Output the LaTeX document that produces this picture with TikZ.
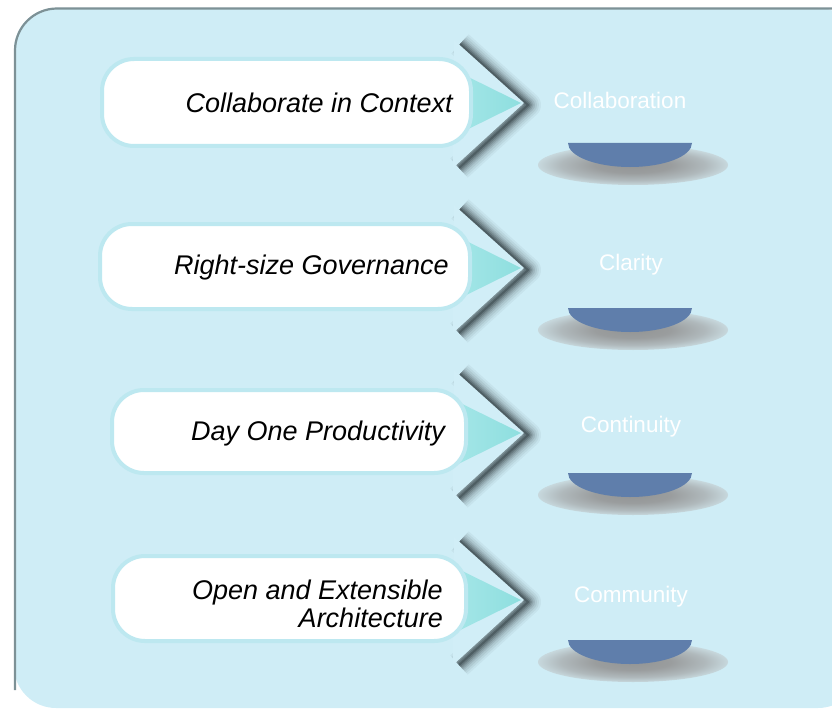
\documentclass[tikz,border=0pt]{standalone}
\usepackage{fontspec}
\setmainfont{Liberation Sans}
\definecolor{bg}{HTML}{CFEDF6}
\definecolor{chev}{HTML}{D1EEF7}
\definecolor{frame}{HTML}{7D9196}
\definecolor{pillline}{HTML}{BDE8F0}
\definecolor{cyanL}{HTML}{A9E7E9}
\definecolor{cyanD}{HTML}{8EDFDF}
\definecolor{bowlblue}{HTML}{5F7EAB}
\definecolor{shad}{HTML}{2E3A3E}
\definecolor{g0}{HTML}{939595}
\definecolor{g1}{HTML}{9A9D9E}
\definecolor{g2}{HTML}{B0B9BC}
\definecolor{g3}{HTML}{C7D8DD}
\pgfdeclareradialshading{bowlsh}{\pgfpoint{0bp}{0bp}}{color(0bp)=(g0); color(10bp)=(g1); color(19bp)=(g2); color(25bp)=(g3); color(50bp)=(g3)}
\tikzset{
  pill/.style={draw=pillline, line width=4bp, fill=white, rounded corners=32bp},
  pilltext/.style={anchor=east, inner sep=0pt, font=\fontsize{27bp}{28bp}\selectfont\itshape, text=black, align=right},
  lab/.style={inner sep=0pt, font=\fontsize{22.5bp}{26bp}\selectfont, text=white},
}
\begin{document}
\begin{tikzpicture}[x=1bp,y=-1bp]
\useasboundingbox (0,0) rectangle (832,709);
\clip (0,0) rectangle (832,709);
% outer panel
\fill[bg, rounded corners=42bp] (14,8) rectangle (860,708);
\draw[frame, line width=2.2bp, rounded corners=42bp] (15,690) -- (15,8.5) -- (860,8.5);
% rows: centre y / pill left / right / top / bottom
\foreach \c/\pl/\pr/\pt/\pb in {103/102/471/59/146, 268/100/470/224/309, 433/112/466/390/473, 600/113/466/556/641}{
  % chevron shadow (soft, built from stacked translucent strokes)
  \foreach \w/\o in {26/0.05,22/0.07,18/0.09,14/0.12,11/0.15,8/0.2,5/0.28,2/0.4}{
    \draw[shad, line width=\w bp, opacity=\o, line join=round, shift={(4,2)}]
      (456,{\c-61}) -- (524,\c) -- (455,{\c+63});
  }
  \fill[chev] (454,{\c-63}) -- (524,\c) -- (453,{\c+65}) -- cycle;
  % cyan triangle
  \shade[left color=cyanL, right color=cyanD] (440,{\c-40}) -- (521,\c) -- (440,{\c+40}) -- cycle;
  % pill
  \draw[pill] (\pl,\pt) rectangle (\pr,\pb);
  % bowl
  \shade[shading=bowlsh] (633,{\c+62}) ellipse [x radius=95, y radius=20];
  \fill[bowlblue] (568,{\c+40}) arc[start angle=180, end angle=0, x radius=62, y radius=24] -- cycle;
}
% pill texts
\node[pilltext] (t1) at (453,103) {Collaborate in Context};
\node[pilltext] (t2) at (449,268) {Right-size Governance};
\node[pilltext] (t3) at (445,434) {Day One Productivity};
\node[pilltext] (t4) at (443,604) {Open and Extensible\\Architecture};
% labels
\node[lab] (l1) at (620,100) {Collaboration};
\node[lab] (l2) at (631,265) {Clarity};
\node[lab] (l3) at (631,427) {Continuity};
\node[lab] (l4) at (631,597) {Community};
\end{tikzpicture}
\end{document}
